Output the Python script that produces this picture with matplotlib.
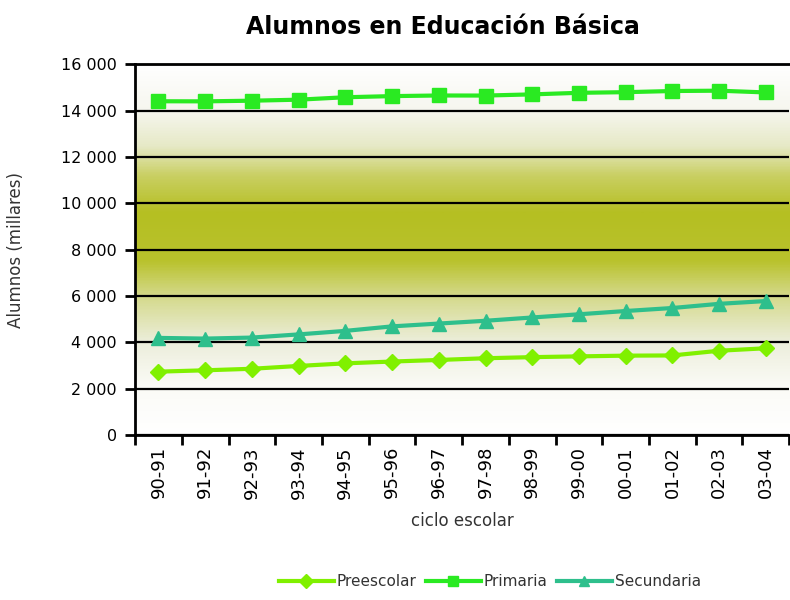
import numpy as np
import matplotlib
matplotlib.use("Agg")
from matplotlib import pyplot as plt
from matplotlib.colors import LinearSegmentedColormap

# datos (miles de alumnos)
ciclos = ["90-91", "91-92", "92-93", "93-94", "94-95", "95-96", "96-97",
          "97-98", "98-99", "99-00", "00-01", "01-02", "02-03", "03-04"]
preescolar = [2734, 2792, 2858, 2980, 3092, 3170, 3238,
              3312, 3360, 3393, 3424, 3433, 3636, 3743]
primaria = [14401, 14397, 14425, 14469, 14574, 14623, 14650,
            14647, 14698, 14765, 14793, 14843, 14857, 14781]
secundaria = [4190, 4160, 4204, 4341, 4493, 4687, 4809,
              4929, 5071, 5209, 5350, 5480, 5660, 5780]

plt.rcParams['font.family'] = ['DejaVu Sans']

fig = plt.figure(figsize=(7.9, 6.0), dpi=100)
ax = fig.add_axes([0.171, 0.275, 0.828, 0.618])

x = np.arange(len(ciclos))
ax.set_xlim(-0.5, len(ciclos) - 0.5)
ax.set_ylim(0, 16000)

# fondo degradado (blanco - verde olivo - blanco)
paradas = [(0.0, "#ffffff"), (0.125, "#fbfbf7"), (0.25, "#eceedb"),
           (0.375, "#d4d98a"), (0.47, "#b9c22c"), (0.6, "#b5bf22"),
           (0.7, "#c9cf62"), (0.78, "#e6e9c6"), (0.875, "#f6f6ee"),
           (1.0, "#ffffff")]
cmap = LinearSegmentedColormap.from_list("fondo", paradas)
grad = np.linspace(0, 1, 400).reshape(-1, 1)
ax.imshow(grad, cmap=cmap, aspect="auto", extent=[-0.5, len(ciclos) - 0.5, 0, 16000],
          origin="lower", zorder=0)

ax.set_yticks(np.arange(0, 16001, 2000))
ax.yaxis.grid(True, color="black", linewidth=1.6, zorder=1)
ax.set_axisbelow(False)

ax.plot(x, preescolar, color="#80f000", marker="D", markersize=8.5, linewidth=3,
        label="Preescolar", zorder=3)
ax.plot(x, primaria, color="#2aea22", marker="s", markersize=9.5, linewidth=3,
        label="Primaria", zorder=3)
ax.plot(x, secundaria, color="#2ebf8c", marker="^", markersize=9.5, linewidth=3,
        label="Secundaria", zorder=3)

# etiquetas del eje x entre marcas
ax.set_xticks(np.arange(-0.5, len(ciclos), 1.0))
ax.set_xticklabels([])
ax.set_xticks(x, minor=True)
ax.set_xticklabels(ciclos, minor=True, rotation=90, fontsize=13)
ax.tick_params(axis="x", which="major", direction="out", length=7, width=2)
ax.tick_params(axis="x", which="minor", length=0, pad=8)
ax.tick_params(axis="y", direction="out", length=7, width=2, labelsize=11.5, pad=6)
ax.set_yticklabels([f"{v:,.0f}".replace(",", " ") for v in ax.get_yticks()])

for lado in ["left", "bottom", "top"]:
    ax.spines[lado].set_linewidth(2)
    ax.spines[lado].set_color("black")
ax.spines["right"].set_visible(False)

ax.set_xlabel("ciclo escolar", fontsize=12, color="#333333", labelpad=10)
ax.set_ylabel("Alumnos (millares)", fontsize=12, color="#333333", labelpad=26)
ax.set_title("Alumnos en Educación Básica", fontsize=17, fontweight="bold", pad=22,
             x=0.47)

fig.legend(loc="lower center", bbox_to_anchor=(0.62, -0.005), ncol=3, frameon=False,
           fontsize=11, handlelength=3.6, handletextpad=0.2, columnspacing=0.6,
           markerscale=0.8, labelcolor="#333333")

plt.savefig("out.png", dpi=100)
plt.close()
